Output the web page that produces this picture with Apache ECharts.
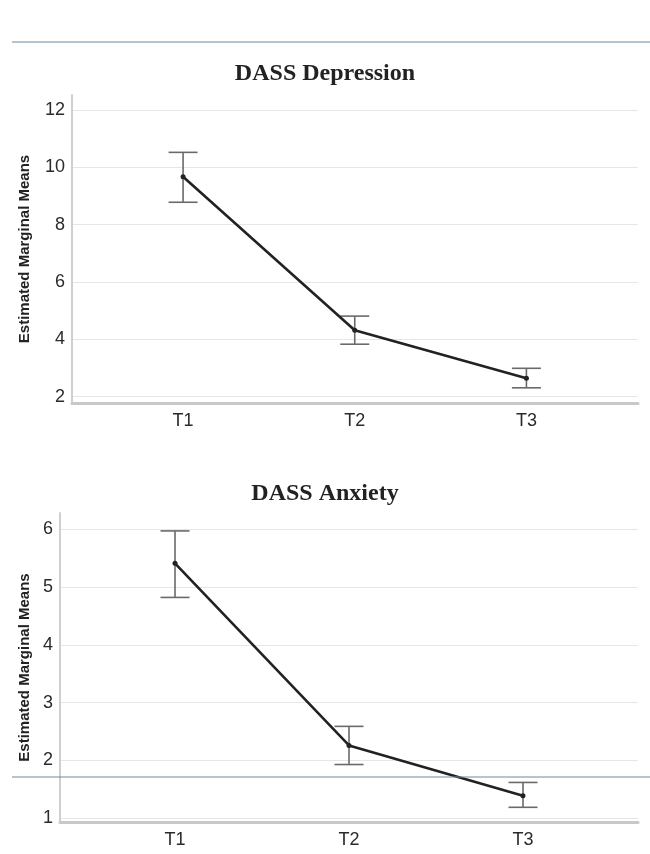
<!DOCTYPE html>
<html><head><meta charset="utf-8">
<script src="https://cdn.jsdelivr.net/npm/echarts@6/dist/echarts.min.js"></script>
<style>html,body{margin:0;padding:0;background:#fff}#c{width:650px;height:854px}</style>
</head><body><div id="c"></div>
<script>
const categories = ['T1', 'T2', 'T3'];
const depTitle = 'DASS Depression';
const anxTitle = 'DASS Anxiety';
const yName = 'Estimated Marginal Means';
const depMean = [9.67, 4.32, 2.64];
const depLower = [8.78, 3.83, 2.31];
const depUpper = [10.52, 4.81, 2.99];
const anxMean = [5.41, 2.26, 1.39];
const anxLower = [4.82, 1.93, 1.19];
const anxUpper = [5.97, 2.59, 1.62];
const depTicks = [2, 4, 6, 8, 10, 12];
const anxTicks = [1, 2, 3, 4, 5, 6];
const catIdx = categories.map((c, i) => i);

const chart = echarts.init(document.getElementById('c'));
const font = 'Liberation Sans, Arial, sans-serif';

function xAxis(gi, min, max) {
  return {
    type: 'value', gridIndex: gi, min: min, max: max,
    axisLine: { show: true, onZero: false, lineStyle: { color: '#c8c8c8', width: 3 } },
    axisTick: { show: false, customValues: catIdx },
    splitLine: { show: false },
    axisLabel: { customValues: catIdx, formatter: v => categories[Math.round(v)] || '',
      color: '#2b2b2b', fontSize: 18, fontFamily: font, margin: 9 }
  };
}
function yAxis(gi, min, max, ticks, gap, margin) {
  return {
    type: 'value', gridIndex: gi, min: min, max: max,
    name: yName, nameLocation: 'middle', nameGap: gap, nameRotate: 90,
    nameTextStyle: { fontSize: 15, fontWeight: 'bold', color: '#222', fontFamily: font },
    axisLine: { show: true, onZero: false, lineStyle: { color: '#cfcfcf', width: 2 } },
    axisTick: { show: false, customValues: ticks },
    splitLine: { show: true, lineStyle: { color: '#e6e6e6', width: 1 } },
    axisLabel: { customValues: ticks, color: '#2b2b2b', fontSize: 18, fontFamily: font, margin: margin }
  };
}
function errSeries(xi, lower, upper) {
  return {
    type: 'custom', xAxisIndex: xi, yAxisIndex: xi, z: 3,
    data: categories.map((c, i) => [i, lower[i], upper[i]]),
    renderItem: function (params, api) {
      const lo = api.coord([api.value(0), api.value(1)]);
      const hi = api.coord([api.value(0), api.value(2)]);
      const w = 14.5;
      const st = { stroke: '#6a6a6a', lineWidth: 1.6 };
      return { type: 'group', children: [
        { type: 'line', shape: { x1: lo[0], y1: lo[1], x2: hi[0], y2: hi[1] }, style: st },
        { type: 'line', shape: { x1: hi[0] - w, y1: hi[1], x2: hi[0] + w, y2: hi[1] }, style: st },
        { type: 'line', shape: { x1: lo[0] - w, y1: lo[1], x2: lo[0] + w, y2: lo[1] }, style: st }
      ]};
    }
  };
}
function meanSeries(xi, mean) {
  return {
    type: 'line', xAxisIndex: xi, yAxisIndex: xi, z: 4,
    data: categories.map((c, i) => [i, mean[i]]),
    symbol: 'circle', symbolSize: 5,
    itemStyle: { color: '#222' },
    lineStyle: { color: '#222', width: 2.6 },
    animation: false
  };
}

chart.setOption({
  animation: false,
  title: [
    { text: depTitle, left: 'center', top: 57, textStyle: { fontFamily: 'Liberation Serif, Times New Roman, serif', fontWeight: 'bold', fontSize: 24, color: '#222' } },
    { text: anxTitle, left: 'center', top: 477, textStyle: { fontFamily: 'Liberation Serif, Times New Roman, serif', fontWeight: 'bold', fontSize: 24, color: '#222' } }
  ],
  grid: [
    { left: 72, right: 12, top: 95, height: 308 },
    { left: 60, right: 12, top: 513, height: 309 }
  ],
  xAxis: [ xAxis(0, -0.647, 2.65), xAxis(1, -0.661, 2.661) ],
  yAxis: [ yAxis(0, 1.78, 12.52, depTicks, 40, 7), yAxis(1, 0.936, 6.28, anxTicks, 28, 7) ],
  series: [
    errSeries(0, depLower, depUpper), meanSeries(0, depMean),
    errSeries(1, anxLower, anxUpper), meanSeries(1, anxMean)
  ],
  graphic: [
    { type: 'line', z: 100, shape: { x1: 12, y1: 42, x2: 650, y2: 42 }, style: { stroke: '#6b8ba6', lineWidth: 1.2 } },
    { type: 'line', z: 100, shape: { x1: 12, y1: 777, x2: 650, y2: 777 }, style: { stroke: '#6b8ba6', lineWidth: 1.2 } }
  ]
});
</script></body></html>
